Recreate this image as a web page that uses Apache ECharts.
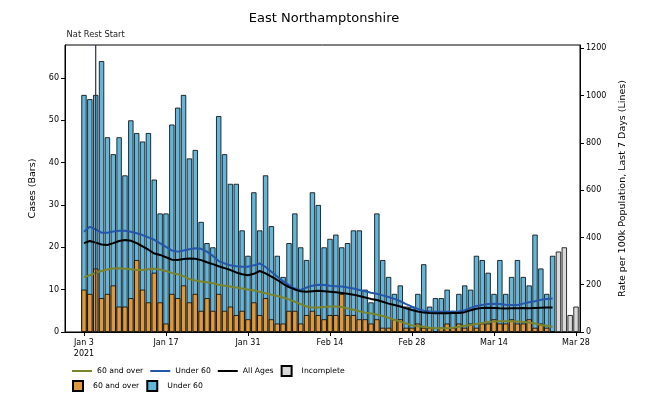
<!DOCTYPE html>
<html>
<head>
<meta charset="UTF-8">
<title>East Northamptonshire</title>
<script src="https://cdn.jsdelivr.net/npm/echarts@6/dist/echarts.min.js"></script>
<style>
  html, body { margin: 0; padding: 0; background: #fff; }
  #chart { width: 648px; height: 393px; }
</style>
</head>
<body>
<div id="chart"></div>
<script>
// day 0 = Jan 3 2021, one bar per day
var tickDays = [0, 14, 28, 42, 56, 70, 84];
var tickLabels = ['Jan 3\n2021', 'Jan 17', 'Jan 31', 'Feb 14', 'Feb 28', 'Mar 14', 'Mar 28'];
var natRestDay = 2; // Jan 5

// cases aged 60 and over (bars, bottom)
var over60 = [10, 9, 15, 8, 9, 11, 6, 6, 8, 17, 10, 7, 14, 7, 2, 9, 8, 11, 7, 9,
  5, 8, 5, 9, 5, 6, 4, 5, 3, 7, 4, 8, 3, 2, 2, 5, 5, 2, 4, 5,
  4, 3, 4, 4, 9, 4, 4, 3, 3, 2, 3, 1, 1, 3, 3, 1, 1, 2, 1, 1,
  0, 1, 2, 1, 2, 1, 2, 1, 2, 2, 3, 2, 2, 3, 2, 2, 3, 1, 2, 1, 0];
// cases under 60 (bars, stacked on top)
var under60 = [46, 46, 41, 56, 37, 31, 40, 31, 42, 30, 35, 40, 22, 21, 26, 40, 45, 45, 34, 34,
  21, 13, 15, 42, 37, 29, 31, 19, 15, 26, 20, 29, 22, 16, 11, 16, 23, 18, 13, 28,
  26, 17, 18, 19, 11, 17, 20, 21, 7, 5, 25, 16, 12, 6, 8, 5, 5, 7, 15, 5,
  8, 7, 8, 4, 7, 10, 8, 17, 15, 12, 6, 15, 7, 10, 15, 11, 8, 22, 13, 8, 18];
// incomplete days (Mar 25 - Mar 28)
var incompleteDays = [81, 82, 83, 84];
var incomplete = [19, 20, 4, 6];

// rate per 100k, last 7 days
var rate60 = [232, 240, 250, 258, 264, 269, 270, 268, 265, 262, 262, 265, 268, 264, 258, 250, 244, 236, 224, 218,
  214, 210, 206, 200, 196, 192, 188, 184, 180, 176, 170, 164, 158, 152, 146, 138, 128, 118, 108, 104,
  104, 106, 108, 108, 106, 100, 94, 88, 82, 78, 74, 68, 60, 52, 44, 36, 28, 24, 22, 18,
  16, 16, 16, 18, 22, 26, 30, 34, 38, 42, 44, 46, 46, 45, 44, 42, 40, 36, 30, 26, 22];
var rateUnder60 = [424, 445, 434, 420, 420, 425, 428, 428, 424, 418, 410, 400, 390, 375, 360, 345, 340, 345, 350, 354,
  352, 340, 322, 300, 290, 282, 278, 276, 276, 282, 290, 275, 255, 235, 215, 198, 184, 178, 188, 196,
  200, 199, 196, 194, 192, 188, 184, 178, 172, 166, 162, 155, 148, 140, 130, 118, 107, 98, 90, 87,
  86, 86, 86, 86, 87, 92, 102, 110, 114, 118, 120, 118, 115, 114, 114, 120, 126, 130, 136, 140, 142];
var rateAll = [376, 385, 378, 370, 368, 376, 385, 389, 386, 376, 362, 348, 332, 326, 316, 306, 305, 309, 311, 310,
  304, 295, 287, 278, 270, 262, 252, 244, 240, 246, 258, 248, 234, 220, 204, 190, 180, 172, 170, 172,
  174, 172, 170, 168, 165, 162, 158, 152, 146, 140, 135, 128, 120, 114, 108, 100, 93, 87, 82, 80,
  79, 79, 79, 80, 80, 84, 92, 98, 102, 103, 102, 100, 99, 100, 100, 101, 100, 102, 103, 104, 104];

var rateMax = 1214;

// blue bar reaches the stacked total; orange is drawn over its lower part
var stackTop = over60.map(function (v, i) { return [i, v + under60[i]]; });
var stackBottom = over60.map(function (v, i) { return [i, v]; });
var greyData = incompleteDays.map(function (d, i) { return [d, incomplete[i]]; });
function linePairs(arr) {
  return arr.map(function (v, i) { return [i, v]; });
}

var square = 'path://M0,0L10,0L10,10L0,10Z';
var dash = 'path://M0,0L20,0L20,2L0,2Z';
var font = 'DejaVu Sans';
var barW = 5.3;

var myChart = echarts.init(document.getElementById('chart'));
myChart.setOption({
  backgroundColor: '#fff',
  animation: false,
  textStyle: { fontFamily: font },
  title: {
    text: 'East Northamptonshire',
    left: 'center',
    top: 7,
    textStyle: { fontSize: 13, fontWeight: 'normal', color: '#000', fontFamily: font }
  },
  grid: {
    left: 65, right: 68, top: 45, bottom: 61,
    show: true, borderColor: '#000', borderWidth: 1
  },
  legend: [{
    left: 67, top: 360,
    itemWidth: 20, itemHeight: 10, itemGap: 7,
    textStyle: { fontSize: 7.7, color: '#000' },
    data: [{ name: '60 and over', icon: dash }, { name: 'Under 60', icon: dash },
      { name: 'All Ages', icon: dash }, { name: 'Incomplete', icon: square }]
  }, {
    left: 67, top: 375,
    itemWidth: 20, itemHeight: 10, itemGap: 7,
    textStyle: { fontSize: 7.7, color: '#000' },
    formatter: function (n) { return n.trim(); },
    data: [{ name: '60 and over ', icon: square }, { name: 'Under 60 ', icon: square }]
  }],
  xAxis: {
    type: 'value',
    min: -3.24,
    max: 84.68,
    axisLine: { onZero: false, lineStyle: { color: '#000', width: 1 } },
    axisTick: { customValues: tickDays, length: 4, lineStyle: { color: '#000' } },
    axisLabel: {
      customValues: tickDays,
      fontSize: 8, color: '#000', margin: 5, lineHeight: 11,
      formatter: function (v) {
        var k = tickDays.indexOf(Math.round(v));
        return k >= 0 ? tickLabels[k] : '';
      }
    },
    splitLine: { show: false }
  },
  yAxis: [{
    type: 'value',
    min: 0, max: 67.8,
    name: 'Cases (Bars)',
    nameLocation: 'middle',
    nameGap: 27,
    nameTextStyle: { fontSize: 9.5, color: '#000' },
    axisLine: { show: true, onZero: false, lineStyle: { color: '#000' } },
    axisTick: { show: true, customValues: [0, 10, 20, 30, 40, 50, 60], length: 4, lineStyle: { color: '#000' } },
    axisLabel: { customValues: [0, 10, 20, 30, 40, 50, 60], fontSize: 8, color: '#000', margin: 6 },
    splitLine: { show: false }
  }, {
    type: 'value',
    min: 0, max: rateMax,
    position: 'right',
    name: 'Rate per 100k Population, Last 7 Days (Lines)',
    nameLocation: 'middle',
    nameGap: 38,
    nameTextStyle: { fontSize: 9.5, color: '#000' },
    axisLine: { show: true, onZero: false, lineStyle: { color: '#000' } },
    axisTick: { show: true, customValues: [0, 200, 400, 600, 800, 1000, 1200], length: 4, lineStyle: { color: '#000' } },
    axisLabel: {
      customValues: [0, 200, 400, 600, 800, 1000, 1200], fontSize: 8, color: '#000', margin: 6,
      formatter: function (v) { return String(v); }
    },
    splitLine: { show: false }
  }],
  series: [{
    name: 'Under 60 ',
    type: 'bar',
    barWidth: barW,
    barGap: '-100%',
    data: stackTop,
    itemStyle: { color: '#62b6da', borderColor: '#000', borderWidth: 0.8 }
  }, {
    name: '60 and over ',
    type: 'bar',
    barWidth: barW,
    barGap: '-100%',
    data: stackBottom,
    itemStyle: { color: '#dd9a3c', borderColor: '#000', borderWidth: 0.8 }
  }, {
    name: 'Incomplete',
    type: 'bar',
    barWidth: barW,
    barGap: '-100%',
    data: greyData,
    itemStyle: { color: '#d9d9d9', borderColor: '#000', borderWidth: 0.8 }
  }, {
    // national restrictions start marker
    name: 'natRest',
    type: 'line',
    yAxisIndex: 1,
    symbol: 'circle',
    symbolSize: 0.1,
    showSymbol: true,
    silent: true,
    z: 7,
    lineStyle: { color: '#2b2f4a', width: 1.2 },
    itemStyle: { color: '#2b2f4a' },
    data: [
      [natRestDay, 0],
      { value: [natRestDay, rateMax],
        label: { show: true, position: 'top', distance: 6, formatter: 'Nat Rest Start', fontSize: 8.3, color: '#222' } }
    ]
  }, {
    name: '60 and over',
    type: 'line',
    yAxisIndex: 1,
    symbol: 'none',
    z: 5,
    data: linePairs(rate60),
    lineStyle: { color: '#7a842c', width: 2 },
    itemStyle: { color: '#7a842c' }
  }, {
    name: 'Under 60',
    type: 'line',
    yAxisIndex: 1,
    symbol: 'none',
    z: 5,
    data: linePairs(rateUnder60),
    lineStyle: { color: '#2456aa', width: 2 },
    itemStyle: { color: '#2456aa' }
  }, {
    name: 'All Ages',
    type: 'line',
    yAxisIndex: 1,
    symbol: 'none',
    z: 6,
    data: linePairs(rateAll),
    lineStyle: { color: '#000', width: 2 },
    itemStyle: { color: '#000' }
  }]
});
window.onresize = function () { myChart.resize(); };
</script>
</body>
</html>
